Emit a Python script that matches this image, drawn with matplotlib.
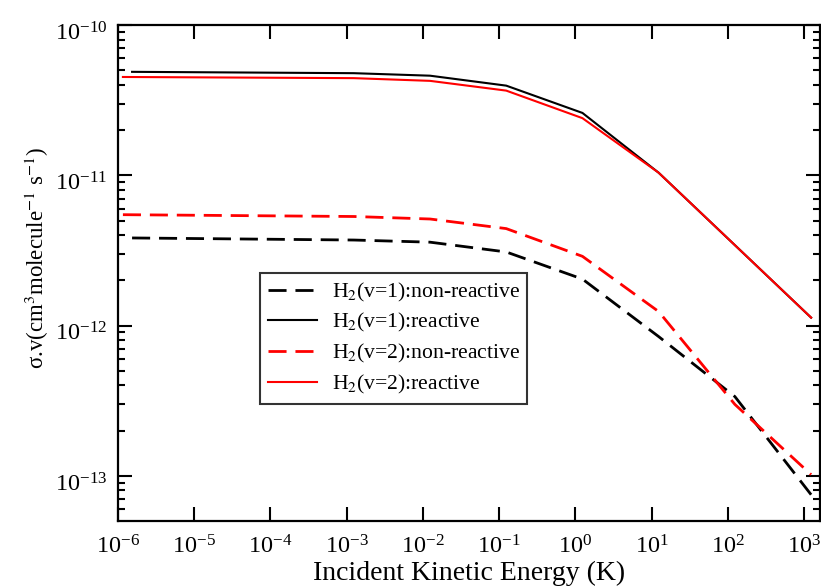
import matplotlib
matplotlib.use("Agg")
import matplotlib.pyplot as plt
import matplotlib.transforms as mtransforms
from matplotlib.ticker import LogLocator, NullFormatter, NullLocator, FixedLocator

plt.rcParams['font.family'] = ['Liberation Serif', 'DejaVu Serif']
plt.rcParams['mathtext.fontset'] = 'stix'

# Data
x_v1 = [1.53e-6, 1.24e-3, 1.24e-2, 1.24e-1, 1.24, 12.4, 124, 1240]
x_v2 = [1.16e-6, 1.24e-3, 1.24e-2, 1.24e-1, 1.24, 12.4, 124, 1240]

v1_nonreactive = [3.83e-12, 3.71e-12, 3.59e-12, 3.09e-12, 2.04e-12, 8.45e-13, 3.37e-13, 7.5e-14]
v1_reactive = [4.88e-11, 4.78e-11, 4.60e-11, 3.95e-11, 2.60e-11, 1.04e-11, 3.43e-12, 1.13e-12]
v2_nonreactive = [5.47e-12, 5.32e-12, 5.12e-12, 4.42e-12, 2.89e-12, 1.24e-12, 2.99e-13, 1.02e-13]
v2_reactive = [4.51e-11, 4.43e-11, 4.25e-11, 3.66e-11, 2.40e-11, 1.04e-11, 3.43e-12, 1.13e-12]

labels = [r"H$_2$(v=1):non-reactive", r"H$_2$(v=1):reactive",
          r"H$_2$(v=2):non-reactive", r"H$_2$(v=2):reactive"]

x_ticks = [1e-6, 1e-5, 1e-4, 1e-3, 1e-2, 1e-1, 1e0, 1e1, 1e2, 1e3]
y_ticks = [1e-13, 1e-12, 1e-11, 1e-10]

fig = plt.figure(figsize=(8.21, 5.88), dpi=100)
ax = fig.add_axes([118/821, 1-521/588, (820-118)/821, (521-25)/588])

ax.plot(x_v1, v1_nonreactive, color='black', lw=2.0, dashes=(6.5, 3.2), label=labels[0])
ax.plot(x_v1, v1_reactive, color='black', lw=1.5, label=labels[1])
ax.plot(x_v2, v2_nonreactive, color='red', lw=2.0, dashes=(6.5, 3.2), label=labels[2])
ax.plot(x_v2, v2_reactive, color='red', lw=1.5, label=labels[3])

ax.set_xscale('log')
ax.set_yscale('log')
ax.set_xlim(1e-6, 10**3.21)
ax.set_ylim(10**-13.3, 1e-10)

ax.xaxis.set_major_locator(FixedLocator(x_ticks))
ax.xaxis.set_minor_locator(NullLocator())
ax.yaxis.set_major_locator(FixedLocator(y_ticks))
ax.yaxis.set_minor_locator(LogLocator(base=10, subs=range(2, 10), numticks=20))
ax.yaxis.set_minor_formatter(NullFormatter())

ax.tick_params(which='both', direction='in', top=True, right=True, width=1.5)
ax.tick_params(which='major', length=10, labelsize=17.5)
ax.tick_params(axis='x', which='major', pad=10)
ax.tick_params(axis='y', which='major', pad=8)
ax.tick_params(which='minor', length=5)
for s in ax.spines.values():
    s.set_linewidth(1.6)

# shift y tick labels slightly downward, as in the reference
offset = mtransforms.ScaledTranslation(0, -6/100, fig.dpi_scale_trans)
for lab in ax.get_yticklabels():
    lab.set_transform(lab.get_transform() + offset)

ax.set_xlabel("Incident Kinetic Energy (K)", fontsize=20, labelpad=0)
ax.xaxis.set_label_coords(0.5, -0.08)
ax.set_ylabel(r"σ.v(cm$^{3}$molecule$^{-1}$ s$^{-1}$)", fontsize=16.5)
ax.yaxis.set_label_coords(-0.096, 0.53)

leg = ax.legend(loc='upper left', bbox_to_anchor=(260/821, 1-273/588),
                bbox_transform=fig.transFigure, fontsize=15.6, frameon=True,
                fancybox=False, borderpad=0.35, labelspacing=0.36,
                handlelength=2.3, handletextpad=0.65, borderaxespad=0)
leg.get_frame().set_edgecolor('black')
leg.get_frame().set_linewidth(1.5)

fig.savefig("out.png", dpi=100)
